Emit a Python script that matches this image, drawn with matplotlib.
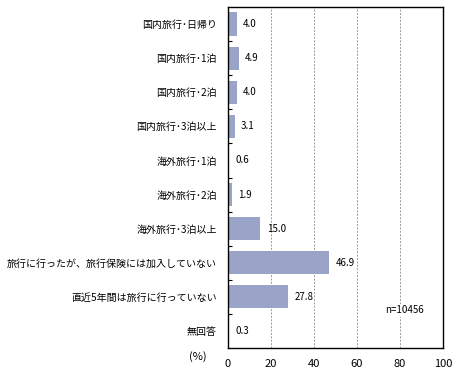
import matplotlib
matplotlib.use("Agg")
import matplotlib.pyplot as plt
import numpy as np

plt.rcParams['font.family'] = ['Noto Sans CJK JP', 'DejaVu Sans']

# データ
categories = [
    "国内旅行･日帰り",
    "国内旅行･1泊",
    "国内旅行･2泊",
    "国内旅行･3泊以上",
    "海外旅行･1泊",
    "海外旅行･2泊",
    "海外旅行･3泊以上",
    "旅行に行ったが、旅行保険には加入していない",
    "直近5年間は旅行に行っていない",
    "無回答",
]
values = [4.0, 4.9, 4.0, 3.1, 0.6, 1.9, 15.0, 46.9, 27.8, 0.3]
xticks = [0, 20, 40, 60, 80, 100]

fig = plt.figure(figsize=(4.61, 3.77), dpi=100)
ax = fig.add_axes([0.4946, 0.0769, 0.4664, 0.9045])

y = np.arange(len(categories))
ax.barh(y, values, height=0.68, color='#9aa3c8', zorder=2)

# 値ラベル
for yi, v in zip(y, values):
    ax.text(v + 3.0, yi, f"{v:.1f}", va='center', ha='left', fontsize=7)

ax.set_xlim(0, 100)
ax.set_ylim(len(categories) - 0.5, -0.5)
ax.set_xticks(xticks)
ax.set_xticklabels([str(t) for t in xticks], fontsize=8)
ax.tick_params(axis='x', length=0, pad=8)

ax.set_yticks(y)
ax.set_yticklabels(categories, fontsize=7.2)
ax.tick_params(axis='y', length=0, pad=8)
# 区切りの目盛り
ax.set_yticks(np.arange(len(categories) - 1) + 0.5, minor=True)
ax.tick_params(axis='y', which='minor', direction='in', length=3, width=0.8)

for t in xticks[1:-1]:
    ax.axvline(t, color='#9a9a9a', linestyle=(0, (2, 1.5)), linewidth=0.7, zorder=1)

for s in ax.spines.values():
    s.set_linewidth(1)
    s.set_color('black')

ax.text(73, 8.4, "n=10456", fontsize=7, ha='left', va='center',
        bbox=dict(facecolor='white', edgecolor='none', pad=1), zorder=3)
fig.text(198 / 461, 1 - 357 / 377, "(%)", fontsize=8, ha='center', va='center')

fig.savefig("out.png", dpi=100)
